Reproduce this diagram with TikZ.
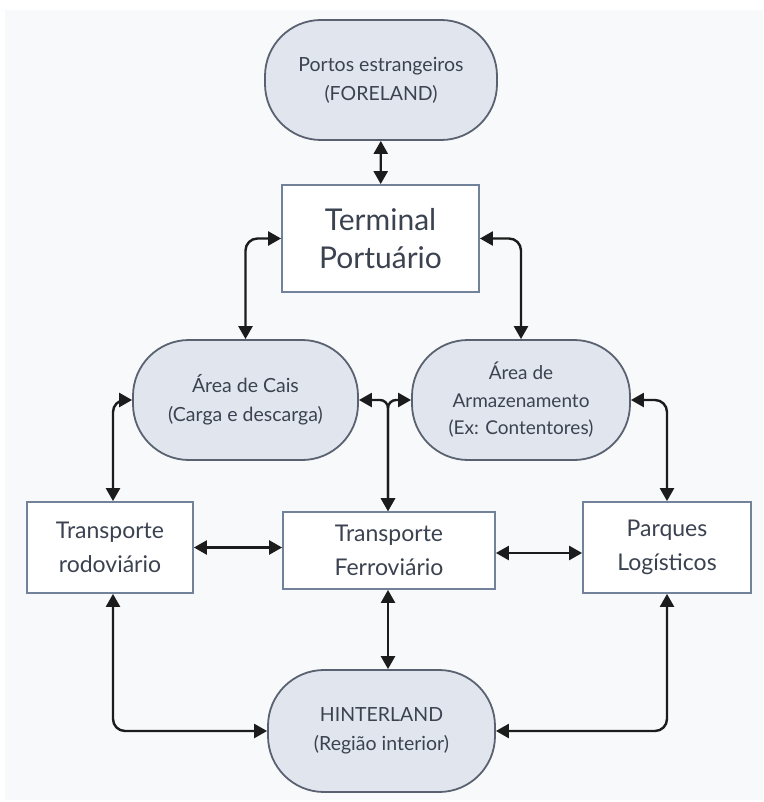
\documentclass[tikz,border=0pt]{standalone}
\usepackage{fontspec}
\setmainfont{Lato}
\usetikzlibrary{arrows.meta}
\definecolor{bgpanel}{HTML}{F8F9FB}
\definecolor{pillfill}{HTML}{E1E6EE}
\definecolor{pillline}{HTML}{5A6271}
\definecolor{boxline}{HTML}{72829A}
\definecolor{txt}{HTML}{3B4250}
\definecolor{arr}{HTML}{1C1C1C}
\tikzset{
  pill/.style={draw=pillline, line width=1.8pt, fill=pillfill, rounded corners=56pt,
    align=center, text=txt, font=\fontsize{19.5}{29}\selectfont, inner sep=0pt},
  boxnode/.style={draw=boxline, line width=1.8pt, fill=white, align=center, text=txt,
    font=\fontsize{23}{34}\selectfont, inner sep=0pt},
  dbl/.style={{Triangle[length=13pt,width=14pt]}-{Triangle[length=13pt,width=14pt]},
    line width=2.4pt, draw=arr, rounded corners=12pt},
}
\begin{document}
\begin{tikzpicture}[x=1pt,y=-1pt]
\useasboundingbox (0,0) rectangle (763,802);
\fill[white] (0,0) rectangle (763,802);
\fill[bgpanel] (5,10) rectangle (763,800);

\node[pill, minimum width=232pt, minimum height=120pt] (fore) at (381,80) {Portos estrangeiros\\(FORELAND)};
\node[boxnode, minimum width=197pt, minimum height=107pt, font=\fontsize{30}{38}\selectfont] (term) at (380.5,238.5) {Terminal\\Portuário};
\node[pill, minimum width=225pt, minimum height=120pt] (cais) at (245.5,400) {Área de Cais\\(Carga e descarga)};
\node[pill, minimum width=218pt, minimum height=120pt, font=\fontsize{19}{27.5}\selectfont] (arm) at (521,400) {Área de\\Armazenamento\\(Ex: Contentores)};
\node[boxnode, minimum width=166pt, minimum height=91pt] (rod) at (110,547.5) {Transporte\\rodoviário};
\node[boxnode, minimum width=212pt, minimum height=77pt] (ferro) at (389,550.5) {Transporte\\Ferroviário};
\node[boxnode, minimum width=168pt, minimum height=91pt] (parq) at (667,547.5) {Parques\\Logísticos};
\node[pill, minimum width=227pt, minimum height=122pt] (hint) at (381.5,731) {HINTERLAND\\(Região interior)};

\draw[dbl] (fore) -- (term);
\draw[dbl] (term.west) -| (cais.north);
\draw[dbl] (term.east) -| (arm.north);
\draw[dbl] (cais.west) -| ([xshift=3pt]rod.north);
\draw[dbl] (arm.east) -| (parq.north);
\draw[dbl, rounded corners=8pt] (cais.east) -| ([xshift=-1pt]ferro.north);
\draw[dbl, rounded corners=8pt] (arm.west) -| ([xshift=-1pt]ferro.north);
\draw[dbl] (rod.east) -- (rod.east -| ferro.west);
\draw[dbl] ([yshift=-2.5pt]ferro.east) -- ([yshift=-2.5pt]ferro.east -| parq.west);
\draw[dbl] ([xshift=-1pt]ferro.south) -- ([xshift=-1pt]ferro.south |- hint.north);
\draw[dbl] ([xshift=3pt]rod.south) |- (hint.west);
\draw[dbl] (parq.south) |- (hint.east);
\end{tikzpicture}
\end{document}
